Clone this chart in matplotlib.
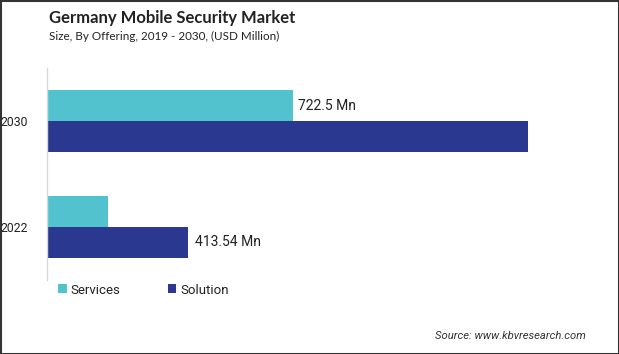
import matplotlib
matplotlib.use("Agg")
import matplotlib.pyplot as plt
from matplotlib.patches import Rectangle
import numpy as np

years = ["2022", "2030"]
services = [177.6, 722.5]
solution = [413.54, 1418.0]
series_names = ["Services", "Solution"]
colors = ["#52C3CE", "#2A388F"]
labels = {("Services", 1): "722.5 Mn", ("Solution", 0): "413.54 Mn"}

W, H = 619, 354
fig = plt.figure(figsize=(W / 100, H / 100), dpi=100)
fig.patch.set_facecolor("white")

ax_left, ax_right = 47.5, 600
ax_top, ax_bot = 68, 280
ax = fig.add_axes([ax_left / W, 1 - ax_bot / H, (ax_right - ax_left) / W, (ax_bot - ax_top) / H])

y = np.arange(len(years))
h = 0.29
ax.barh(y + h / 2, services, height=h, color=colors[0], label=series_names[0])
ax.barh(y - h / 2, solution, height=h, color=colors[1], label=series_names[1])

scale = 722.5 / (292.5 - 47.5)
ax.set_xlim(0, (ax_right - ax_left) * scale)
ax.set_ylim(-0.5, 1.5)

font_main = ["Roboto", "DejaVu Sans"]
ax.text(services[1] + 6 * scale, 1 + h / 2, labels[("Services", 1)], va="center", ha="left",
        fontsize=10, color="#222222", family=font_main)
ax.text(solution[0] + 7 * scale, 0 - h / 2, labels[("Solution", 0)], va="center", ha="left",
        fontsize=10, color="#222222", family=font_main)

ax.set_yticks(y)
ax.set_yticklabels(years, fontsize=8.8, family=font_main, color="#222222")
ax.tick_params(axis="y", length=0, pad=14.3)
ax.set_xticks([])
for s in ["top", "right", "bottom"]:
    ax.spines[s].set_visible(False)
ax.spines["left"].set_color("#D9D9D9")
ax.spines["left"].set_linewidth(1)

leg = fig.legend(loc="center left", bbox_to_anchor=(58 / W, 1 - 290 / H), ncol=2,
                 frameon=False, handlelength=0.65, handleheight=0.65, handletextpad=0.3,
                 columnspacing=3.6, borderpad=0, borderaxespad=0,
                 prop={"family": font_main, "size": 9.5})
for t in leg.get_texts():
    t.set_color("#222222")

fig.text(49 / W, 1 - 18 / H, "Germany Mobile Security Market", fontsize=12, fontweight="bold",
         family=["Lato", "DejaVu Sans"], color="#222222", va="center", ha="left")
fig.text(49 / W, 1 - 36 / H, "Size, By Offering, 2019 - 2030, (USD Million)", fontsize=8.4,
         family=["Lato", "DejaVu Sans"], color="#222222", va="center", ha="left")
fig.text(586 / W, 1 - 336 / H, "Source: www.kbvresearch.com", fontsize=8.1, style="italic",
         family=font_main, color="#333333", va="center", ha="right")

fig.patches.append(Rectangle((0, 0), 1, 1, transform=fig.transFigure, fill=False,
                             edgecolor="#333333", linewidth=2.2, zorder=10))

fig.savefig("out.png", dpi=100)
